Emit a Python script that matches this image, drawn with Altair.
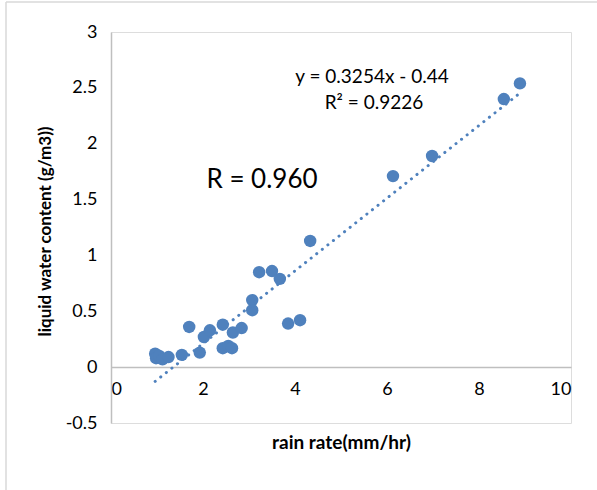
import altair as alt
import pandas as pd

rain_rate = [0.96, 0.98, 1.05, 1.12, 1.25, 1.54, 1.70, 1.93, 2.02, 2.15, 2.43, 2.43,
             2.55, 2.63, 2.65, 2.84, 3.07, 3.07, 3.22, 3.50, 3.67, 3.85, 4.11, 4.33,
             6.13, 6.98, 8.54, 8.89]
lwc = [0.12, 0.08, 0.10, 0.07, 0.09, 0.11, 0.36, 0.13, 0.27, 0.33, 0.38, 0.17,
       0.19, 0.17, 0.31, 0.35, 0.60, 0.51, 0.85, 0.86, 0.79, 0.39, 0.42, 1.13,
       1.71, 1.89, 2.40, 2.54]

slope = 0.3254
intercept = -0.44
x_ticks = [0, 2, 4, 6, 8, 10]
y_ticks = [-0.5, 0, 0.5, 1, 1.5, 2, 2.5, 3]
equation = "y = 0.3254x - 0.44"
r_squared = "R² = 0.9226"
r_label = "R = 0.960"

blue = "#4F81BD"
font = "Lato"
lab = 18

df = pd.DataFrame({"x": rain_rate, "y": lwc})
x_min, x_max = min(rain_rate), max(rain_rate)
trend = pd.DataFrame({"x": [x_min, x_max],
                      "y": [slope * x_min + intercept, slope * x_max + intercept]})

xscale = alt.Scale(domain=[0, 10], nice=False, zero=False)
yscale = alt.Scale(domain=[-0.5, 3], nice=False, zero=False)

x_enc = alt.X("x:Q", scale=xscale,
              axis=alt.Axis(title="rain rate(mm/hr)", values=x_ticks, offset=-56,
                            labelExpr="toString(datum.value)",
                            grid=False, ticks=False, domainColor="#BFBFBF", domainWidth=1.5,
                            labelPadding=13, labelFontSize=lab, labelColor="#000000",
                            labelFont=font, titleFont=font, titleFontSize=19,
                            titleFontWeight="bold", titleColor="#000000", titlePadding=35))
y_enc = alt.Y("y:Q", scale=yscale,
              axis=alt.Axis(title="liquid water content (g/m3))", values=y_ticks,
                            labelExpr="toString(datum.value)",
                            grid=False, ticks=False, domainColor="#BFBFBF", domainWidth=1.5,
                            labelPadding=14, labelFontSize=lab, labelColor="#000000",
                            labelFont=font, titleFont=font, titleFontSize=17,
                            titleFontWeight="bold", titleColor="#000000",
                            titleX=-66, titleY=199, titleAlign="center",
                            titleBaseline="middle", titleAngle=-90))

points = alt.Chart(df).mark_circle(size=155, color=blue, opacity=1).encode(x=x_enc, y=y_enc)

line = alt.Chart(trend).mark_line(color=blue, strokeWidth=3, strokeDash=[0.1, 7],
                                  strokeCap="round").encode(x=x_enc, y=y_enc)

def label(txt, px, py, size):
    return alt.Chart(pd.DataFrame({"t": [txt]})).mark_text(
        font=font, fontSize=size, color="#000000", align="center", baseline="middle"
    ).encode(text="t:N", x=alt.value(px), y=alt.value(py))

eq1 = label(equation, 261, 45, 19)
eq2 = label(r_squared, 263, 71, 19)
r_text = label(r_label, 151, 148, 26)

one = pd.DataFrame({"a": [0]})
border_top = alt.Chart(one).mark_rule(color="#D9D9D9", strokeWidth=1.5).encode(
    x=alt.value(-105), x2=alt.value(500), y=alt.value(-30))
border_left = alt.Chart(one).mark_rule(color="#D9D9D9", strokeWidth=1.5).encode(
    x=alt.value(-105), y=alt.value(-30), y2=alt.value(470))

chart = alt.layer(points, line, border_top, border_left, eq1, eq2, r_text).properties(
    width=460, height=391,
    padding={"left": 111, "top": 32, "right": 26, "bottom": 67},
    autosize=alt.AutoSizeParams(type="none"),
).configure_view(stroke=None).configure(background="white")

chart.save("out.html", embed_options={"renderer": "svg", "actions": False})
